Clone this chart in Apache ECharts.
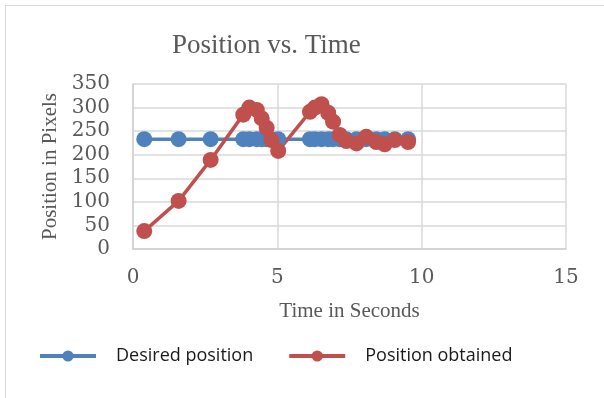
<!DOCTYPE html>
<html>
<head>
<meta charset="utf-8">
<script src="https://cdn.jsdelivr.net/npm/echarts@6/dist/echarts.min.js"></script>
<style>
  html, body { margin: 0; padding: 0; background: #fff; }
  #chart { width: 604px; height: 398px; }
  #frame { position: absolute; left: 5px; top: 5px; width: 610px; height: 400px;
           border-left: 1px solid #d9d9d9; border-top: 1px solid #d9d9d9; pointer-events: none; }
</style>
</head>
<body>
<div id="chart"></div>
<div id="frame"></div>
<script>
// time samples (s)
const times = [0.39, 1.58, 2.69, 3.82, 4.03, 4.29, 4.46, 4.63, 4.80, 5.03,
               6.13, 6.30, 6.53, 6.76, 6.93, 7.16, 7.39, 7.74, 8.08, 8.43, 8.72, 9.07, 9.53];
const desired = [233, 233, 233, 233, 233, 233, 233, 233, 233, 233,
                 233, 233, 233, 233, 233, 233, 233, 233, 233, 233, 233, 233, 233];
const obtained = [38, 102, 189, 285, 300, 295, 277, 257, 231, 208,
                  291, 300, 307, 289, 270, 242, 229, 224, 238, 227, 222, 231, 227];

const serif = '"Liberation Serif", "DejaVu Serif", serif';
const tickFont = '"DejaVu Serif", serif';
const pair = (ys) => times.map((t, i) => [t, ys[i]]);

const chart = echarts.init(document.getElementById('chart'));
chart.setOption({
  animation: false,
  title: {
    text: 'Position vs. Time',
    left: 167, top: 27,
    textStyle: { fontFamily: serif, fontSize: 27, fontWeight: 'normal', color: '#595959' }
  },
  grid: { left: 133, right: 38, top: 84, bottom: 149 },
  legend: {
    bottom: 28, left: 33,
    itemWidth: 56, itemHeight: 14, itemGap: 34,
    lineStyle: { width: 4 },
    textStyle: { fontFamily: '"Open Sans", "Noto Sans", sans-serif', fontSize: 18, color: '#1a1a1a', padding: [0, 0, 0, 15] },
    data: ['Desired position', 'Position obtained']
  },
  xAxis: {
    type: 'value', min: 0, max: 15, interval: 5,
    name: 'Time in Seconds', nameLocation: 'middle', nameGap: 52,
    nameTextStyle: { fontFamily: serif, fontSize: 21, color: '#595959' },
    axisLine: { show: true, lineStyle: { color: '#d0d0d0', width: 1.5 } },
    axisTick: { show: false },
    axisLabel: { fontFamily: tickFont, fontSize: 20, color: '#595959', margin: 19 },
    splitLine: { show: true, lineStyle: { color: '#d9d9d9', width: 1.5 } }
  },
  yAxis: {
    type: 'value', min: 0, max: 350, interval: 50,
    name: 'Position in Pixels', nameLocation: 'middle', nameGap: 66,
    nameTextStyle: { fontFamily: serif, fontSize: 21, color: '#595959' },
    axisLine: { show: true, lineStyle: { color: '#d0d0d0', width: 1.5 } },
    axisTick: { show: false },
    axisLabel: { fontFamily: tickFont, fontSize: 20, color: '#595959', margin: 23 },
    splitLine: { show: true, lineStyle: { color: '#d9d9d9', width: 1.5 } }
  },
  series: [
    {
      name: 'Desired position', type: 'line', data: pair(desired),
      symbol: 'circle', symbolSize: 16,
      lineStyle: { color: '#4f81bd', width: 3.5 },
      itemStyle: { color: '#4f81bd' }
    },
    {
      name: 'Position obtained', type: 'line', data: pair(obtained),
      symbol: 'circle', symbolSize: 16,
      lineStyle: { color: '#c0504d', width: 3.5 },
      itemStyle: { color: '#c0504d' }
    }
  ]
});
</script>
</body>
</html>
